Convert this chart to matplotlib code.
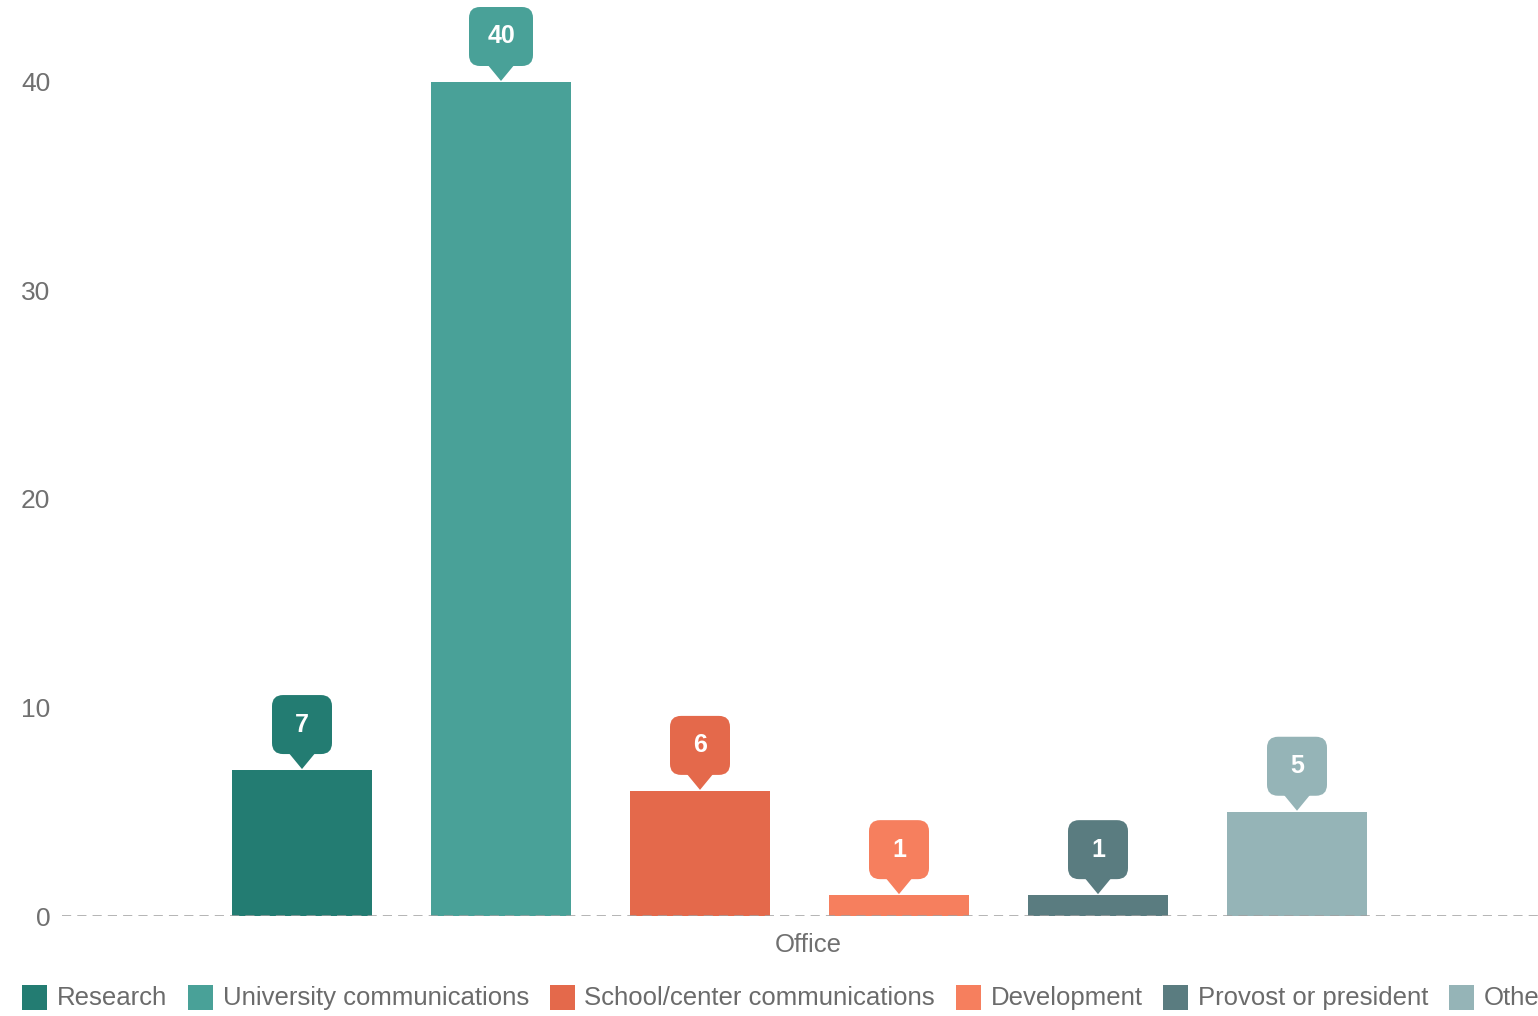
import matplotlib
matplotlib.use("Agg")
import matplotlib.pyplot as plt
from matplotlib.patches import FancyBboxPatch, Polygon, Rectangle
from matplotlib import transforms

plt.rcParams['font.family'] = ['Liberation Sans', 'DejaVu Sans']

# survey answers: which office handles it
offices = ["Research", "University communications", "School/center communications",
           "Development", "Provost or president", "Other"]
counts = [7, 40, 6, 1, 1, 5]
colors = ["#237c72", "#49a198", "#e4694b", "#f67f5e", "#5a7c80", "#95b4b7"]
yticks = [0, 10, 20, 30, 40]

W, H, DPI = 1538, 1016, 100
fig = plt.figure(figsize=(W / DPI, H / DPI), dpi=DPI)

# axes run past the right edge on purpose (chart is cropped there)
ax_l, ax_r, ax_b = 62, 1554, 916
ymax = 44
px_per_unit = 20.85
ax = fig.add_axes([ax_l / W, (H - ax_b) / H, (ax_r - ax_l) / W, ymax * px_per_unit / H])

x = list(range(len(counts)))
ax.bar(x, counts, width=0.70, color=colors, zorder=2)
ax.set_xlim((ax_l - 302) / 199, (ax_r - 302) / 199)
ax.set_ylim(0, ymax)

for s in ax.spines.values():
    s.set_visible(False)
ax.set_xticks([])
ax.set_yticks(yticks)
ax.tick_params(axis='y', length=0, pad=8.5, labelsize=19, labelcolor="#707070")
ax.axhline(0, color="#a0a0a0", lw=1.1, ls=(0, (6, 4)), zorder=3)
ax.set_xlabel("Office", fontsize=18.5, color="#707070", labelpad=12)

# callout bubbles above each bar
for xi, v, c in zip(x, counts, colors):
    trans = fig.dpi_scale_trans + transforms.ScaledTranslation(xi, v, ax.transData)
    bw = 0.64 if v >= 10 else 0.60
    box = FancyBboxPatch((-bw / 2, 0.16), bw, 0.59,
                         boxstyle="round,pad=0,rounding_size=0.11",
                         transform=trans, facecolor=c, edgecolor="none",
                         zorder=4, clip_on=False)
    tip = Polygon([(-0.14, 0.18), (0.14, 0.18), (0, 0.01)], closed=True,
                  transform=trans, facecolor=c, edgecolor="none",
                  zorder=4, clip_on=False)
    ax.add_patch(box)
    ax.add_patch(tip)
    ax.text(0, 0.455, str(v), transform=trans, ha="center", va="center",
            color="white", fontsize=18, fontweight="bold", zorder=5, clip_on=False)

# legend row along the bottom, laid out left to right (last entry runs off the edge)
fig.canvas.draw()
renderer = fig.canvas.get_renderer()
cx = 22
cy = H - 997
sq = 25
for name, c in zip(offices, colors):
    fig.patches.append(Rectangle((cx / W, (cy - sq / 2) / H), sq / W, sq / H,
                                 transform=fig.transFigure, facecolor=c,
                                 edgecolor="none"))
    t = fig.text((cx + sq + 10) / W, (cy - 8) / H, name, fontsize=18.5, color="#6b6b6b",
                 ha="left", va="baseline")
    bb = t.get_window_extent(renderer)
    cx = bb.x1 + 20.5

fig.savefig("out.png", dpi=DPI)
